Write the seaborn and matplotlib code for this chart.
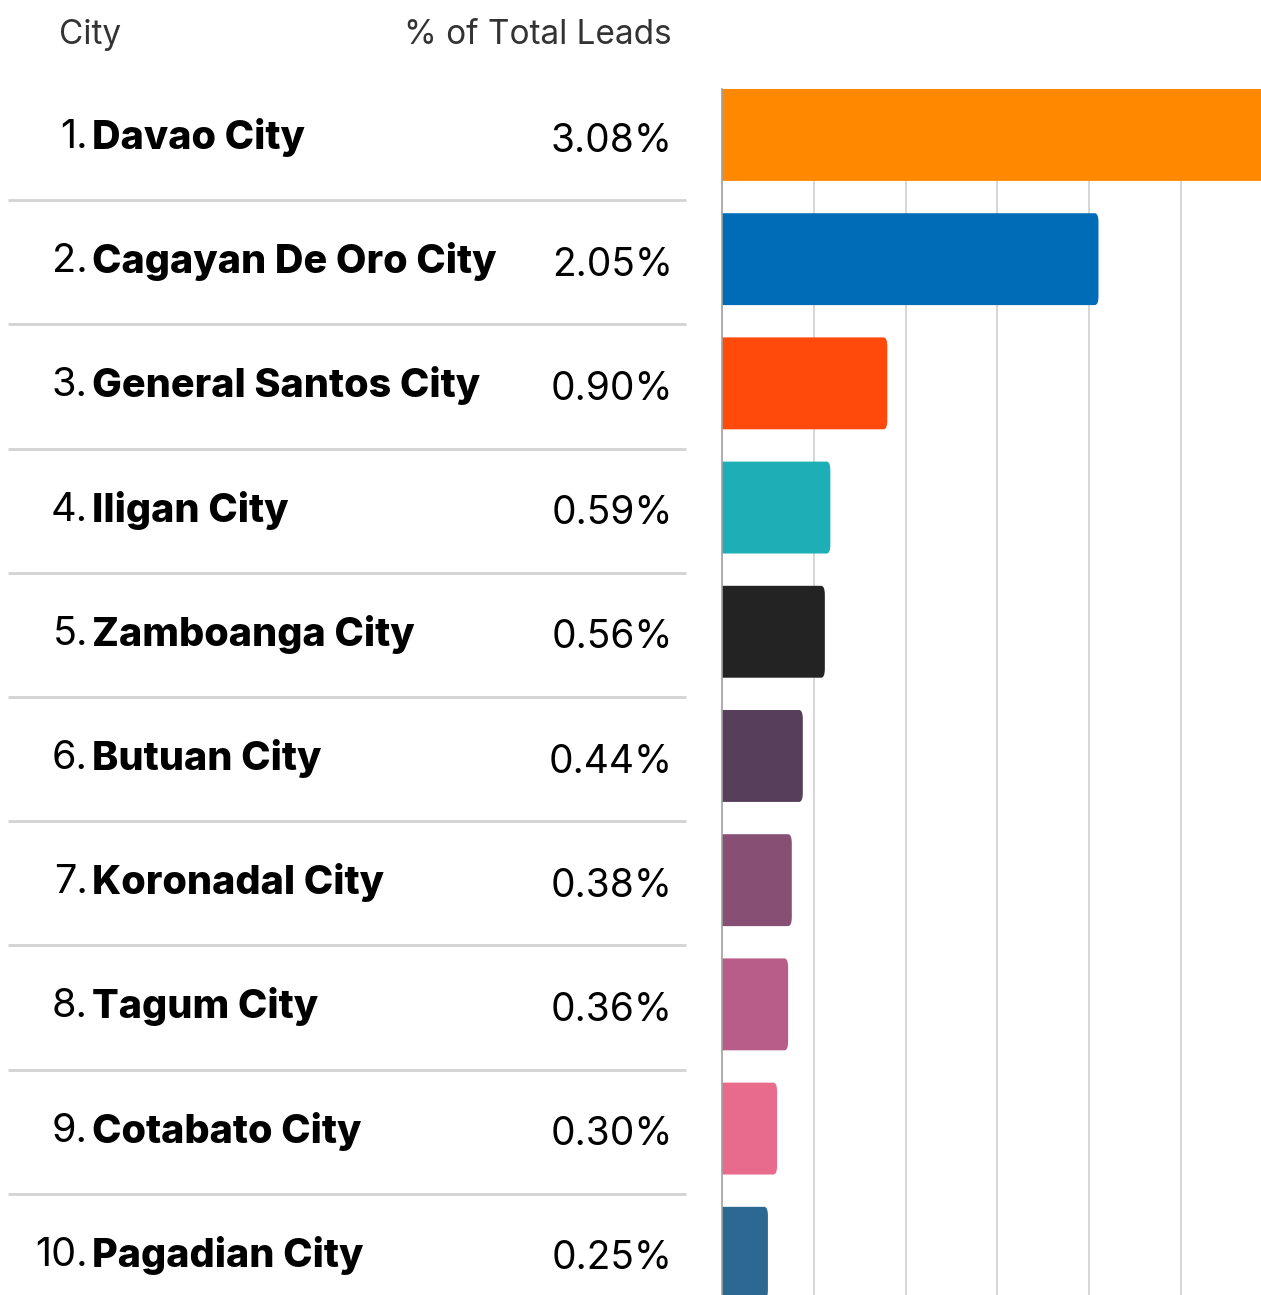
import matplotlib
matplotlib.use("Agg")
import matplotlib.pyplot as plt
import seaborn as sns
import pandas as pd
from matplotlib.patches import FancyBboxPatch

cities = ["Davao City", "Cagayan De Oro City", "General Santos City", "Iligan City",
          "Zamboanga City", "Butuan City", "Koronadal City", "Tagum City",
          "Cotabato City", "Pagadian City"]
pct = [3.08, 2.05, 0.90, 0.59, 0.56, 0.44, 0.38, 0.36, 0.30, 0.25]
colors = ["#FF8800", "#006CB7", "#FF4A0B", "#1EAFB6", "#232323", "#573E5B",
          "#874F74", "#B85D89", "#E86A8C", "#2D6893"]
header_city = "City"
header_pct = "% of Total Leads"

df = pd.DataFrame({"city": cities, "pct": pct})

sns.set_theme(style="white")
plt.rcParams['font.family'] = ['Inter', 'DejaVu Sans']

W, H = 1261, 1295
fig = plt.figure(figsize=(W / 100, H / 100), dpi=100)

top_px, bot_px = 89, 1295
ax = fig.add_axes([722 / W, 1 - bot_px / H, (W - 722) / W, (bot_px - top_px) / H])
sns.barplot(data=df, y="city", x="pct", hue="city", palette=colors, orient="h",
            width=0.74, dodge=False, legend=False, saturation=1, ax=ax, zorder=2)
ax.set_xlim(0, 2.935)
ax.set_ylim(9.34, -0.37)
ax.set_xticks([0.5, 1.0, 1.5, 2.0, 2.5])
ax.grid(axis="x", color="#d0d0d0", linewidth=1.2, zorder=0)
ax.set_axisbelow(True)
ax.tick_params(left=False, bottom=False, labelleft=False, labelbottom=False)
for s in ["top", "right", "bottom"]:
    ax.spines[s].set_visible(False)
ax.spines["left"].set_color("#a0a0a0")
ax.spines["left"].set_linewidth(1.2)
ax.spines["left"].set_zorder(3)
ax.set_xlabel("")
ax.set_ylabel("")

# rounded right corners
for p in list(ax.patches):
    x0, y0 = p.get_x(), p.get_y()
    w, h = p.get_width(), p.get_height()
    fc = p.get_facecolor()
    p.remove()
    fb = FancyBboxPatch((x0 - 0.05, y0), w + 0.05, h,
                        boxstyle="round,pad=0,rounding_size=0.02",
                        mutation_aspect=0.74 / 0.0286 * 0.02 / 0.02 * 0.14,
                        facecolor=fc, edgecolor="none", zorder=2, clip_on=True)
    ax.add_patch(fb)

# table side
axt = fig.add_axes([0, 1 - bot_px / H, 722 / W, (bot_px - top_px) / H], sharey=ax)
axt.set_xlim(0, 722)
axt.axis("off")
for i, (c, v) in enumerate(zip(cities, pct)):
    axt.text(88, i + 0.02, f"{i + 1}.", ha="right", va="center", fontsize=28.5,
             color="#000000")
    axt.text(92, i + 0.02, c, ha="left", va="center", fontsize=28.5,
             fontweight=800, color="#000000")
    axt.text(673, i + 0.05, f"{v:.2f}%", ha="right", va="center", fontsize=28,
             color="#000000")
    if i < len(cities) - 1:
        axt.plot([8, 686], [i + 0.525, i + 0.525], color="#d3d3d3",
                 linewidth=2, solid_capstyle="butt")

fig.text(59 / W, 1 - 35 / H, header_city, ha="left", va="center",
         fontsize=24, color="#333333")
fig.text(672 / W, 1 - 35 / H, header_pct, ha="right", va="center",
         fontsize=24, color="#333333")

fig.savefig("out.png", dpi=100)
